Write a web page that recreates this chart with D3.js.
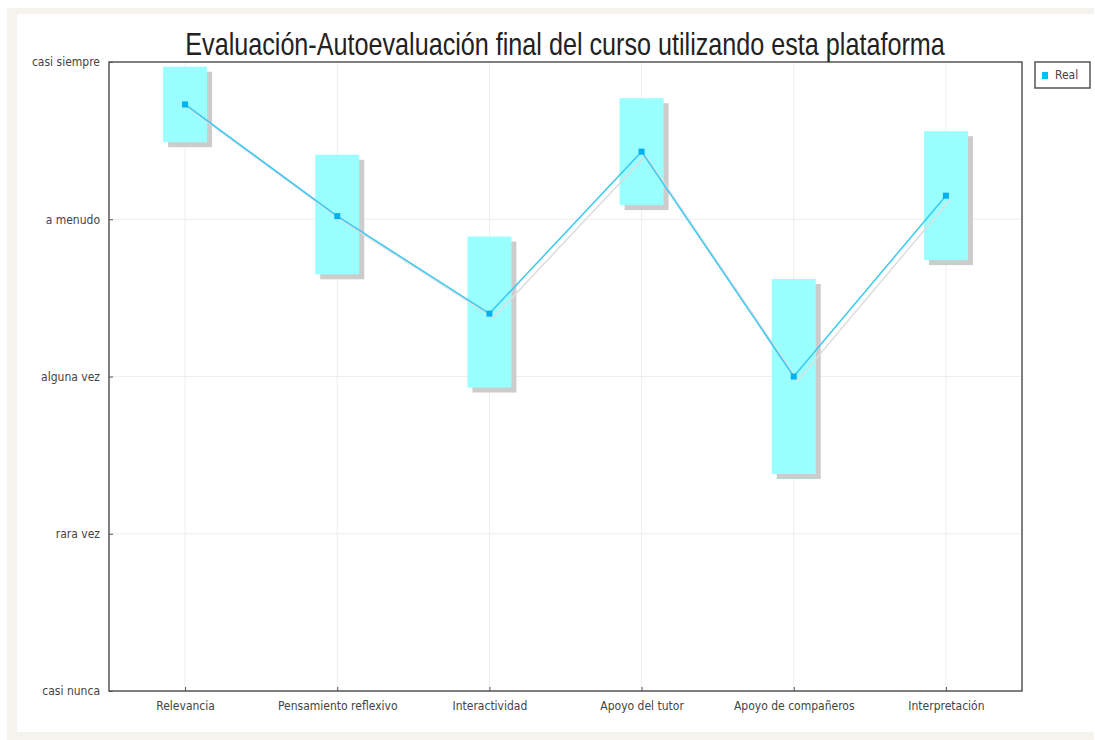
<!DOCTYPE html>
<html>
<head>
<meta charset="utf-8">
<script src="https://cdn.jsdelivr.net/npm/d3@7"></script>
<style>
  body { margin: 0; background: #fff; }
  svg { display: block; }
  .c-axis text { font-family: 'Liberation Sans Narrow', 'DejaVu Sans Condensed', sans-serif; font-size: 12px; fill: #444; }
</style>
</head>
<body>
<div id="chart"></div>
<script>
// chart data
const categories = ['Relevancia', 'Pensamiento reflexivo', 'Interactividad', 'Apoyo del tutor', 'Apoyo de compañeros', 'Interpretación'];
const meanValues = [3.73, 3.02, 2.40, 3.43, 2.00, 3.15];
const highValues = [3.97, 3.41, 2.89, 3.77, 2.62, 3.56];
const lowValues = [3.49, 2.65, 1.93, 3.09, 1.38, 2.74];
const levelLabels = ['casi nunca', 'rara vez', 'alguna vez', 'a menudo', 'casi siempre'];
const seriesName = 'Real';

const width = 1095;
const height = 740;
const margin = {left: 109, top: 62, right: 73, bottom: 49};

const svg = d3.select('#chart').append('svg')
  .attr('width', width)
  .attr('height', height);

// page frame
svg.append('rect').attr('x', 7).attr('y', 8).attr('width', 1087).attr('height', 732).attr('fill', '#f4f3ee');
svg.append('rect').attr('x', 17).attr('y', 14).attr('width', 1077).attr('height', 718).attr('fill', '#fff');

const x = d3.scalePoint().domain(categories).range([margin.left, width - margin.right]).padding(0.5);
const y = d3.scaleLinear().domain([0, 4]).range([height - margin.bottom, margin.top]);

const plotW = width - margin.right - margin.left;
const plotH = height - margin.bottom - margin.top;

// grid
const grid = svg.append('g').attr('class', 'c-grid');
grid.selectAll('line.v').data(categories).enter().append('line')
  .attr('x1', d => x(d)).attr('x2', d => x(d))
  .attr('y1', margin.top).attr('y2', height - margin.bottom)
  .attr('stroke', '#eeeeee');
grid.selectAll('line.h').data(d3.range(1, 4)).enter().append('line')
  .attr('x1', margin.left).attr('x2', width - margin.right)
  .attr('y1', d => y(d)).attr('y2', d => y(d))
  .attr('stroke', '#eeeeee');

// boxes with shadow
const boxW = 44;
const boxes = svg.append('g').attr('class', 'c-boxes');
categories.forEach((c, i) => {
  boxes.append('rect')
    .attr('x', x(c) - boxW / 2 + 5).attr('y', y(highValues[i]) + 5)
    .attr('width', boxW).attr('height', y(lowValues[i]) - y(highValues[i]))
    .attr('fill', '#cccccc');
  boxes.append('rect')
    .attr('x', x(c) - boxW / 2).attr('y', y(highValues[i]))
    .attr('width', boxW).attr('height', y(lowValues[i]) - y(highValues[i]))
    .attr('fill', '#99ffff');
});

// line with shadow
const line = d3.line()
  .x((d, i) => x(categories[i]))
  .y(d => y(d));

svg.append('path')
  .attr('d', line(meanValues))
  .attr('transform', 'translate(4,4)')
  .attr('fill', 'none').attr('stroke', '#dddddd').attr('stroke-width', 1.5);
svg.append('path')
  .attr('d', line(meanValues))
  .attr('fill', 'none').attr('stroke', '#3cc8f0').attr('stroke-width', 1.5);

svg.append('g').selectAll('rect').data(meanValues).enter().append('rect')
  .attr('x', (d, i) => x(categories[i]) - 3)
  .attr('y', d => y(d) - 3)
  .attr('width', 6).attr('height', 6)
  .attr('fill', '#00b0f0');

// axes
const yAxis = d3.axisLeft(y).tickValues(d3.range(0, 5)).tickFormat(d => levelLabels[d]).tickSize(-4).tickPadding(9);
const xAxis = d3.axisBottom(x).tickSize(-4).tickPadding(10);

svg.append('g').attr('class', 'c-axis')
  .attr('transform', 'translate(' + margin.left + ',0)')
  .call(yAxis);
svg.append('g').attr('class', 'c-axis')
  .attr('transform', 'translate(0,' + (height - margin.bottom) + ')')
  .call(xAxis);
svg.selectAll('.c-axis .domain').remove();
svg.selectAll('.c-axis line').attr('stroke', '#555');

// frame
svg.append('rect')
  .attr('x', margin.left).attr('y', margin.top)
  .attr('width', plotW).attr('height', plotH)
  .attr('fill', 'none').attr('stroke', '#555').attr('stroke-width', 1.5);

// title, squeezed horizontally to look like a narrow font
const title = svg.append('text')
  .attr('text-anchor', 'middle')
  .style('font-family', "'Liberation Sans', sans-serif")
  .style('font-size', '31px')
  .style('fill', '#222')
  .text('Evaluación-Autoevaluación final del curso utilizando esta plataforma');
const titleLen = title.node().getComputedTextLength();
title.attr('transform', 'translate(565,55) scale(' + (760 / titleLen) + ',1)');

// legend
const legend = svg.append('g').attr('transform', 'translate(1035,62)');
legend.append('rect').attr('width', 55).attr('height', 26)
  .attr('fill', '#fff').attr('stroke', '#555').attr('stroke-width', 1.5);
legend.append('rect').attr('x', 7).attr('y', 10).attr('width', 6).attr('height', 7).attr('fill', '#00c0ff');
legend.append('text').attr('x', 20).attr('y', 17)
  .style('font-family', "'Liberation Sans Narrow', 'DejaVu Sans Condensed', sans-serif")
  .style('font-size', '12px').style('fill', '#444')
  .text(seriesName);
</script>
</body>
</html>
